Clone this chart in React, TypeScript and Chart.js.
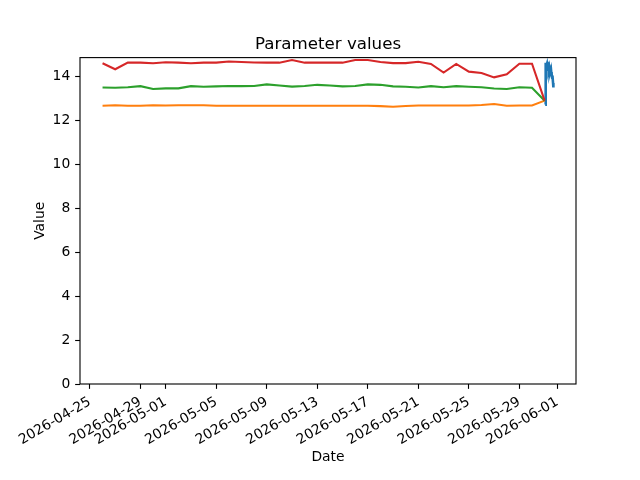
import { useEffect, useRef } from "react";
import { Chart, registerables } from "chart.js";

Chart.register(...registerables);

// one reading per day for the three daily parameters
const dailyDates = [
  "2026-04-26", "2026-04-27", "2026-04-28", "2026-04-29", "2026-04-30",
  "2026-05-01", "2026-05-02", "2026-05-03", "2026-05-04", "2026-05-05",
  "2026-05-06", "2026-05-07", "2026-05-08", "2026-05-09", "2026-05-10",
  "2026-05-11", "2026-05-12", "2026-05-13", "2026-05-14", "2026-05-15",
  "2026-05-16", "2026-05-17", "2026-05-18", "2026-05-19", "2026-05-20",
  "2026-05-21", "2026-05-22", "2026-05-23", "2026-05-24", "2026-05-25",
  "2026-05-26", "2026-05-27", "2026-05-28", "2026-05-29", "2026-05-30",
  "2026-05-31",
];

const dailyOrange = [
  12.67, 12.69, 12.67, 12.67, 12.69, 12.68, 12.69, 12.69, 12.69, 12.67,
  12.67, 12.67, 12.67, 12.67, 12.67, 12.67, 12.67, 12.67, 12.67, 12.67,
  12.67, 12.67, 12.65, 12.62, 12.66, 12.68, 12.68, 12.68, 12.68, 12.68,
  12.70, 12.75, 12.67, 12.68, 12.68, 12.90,
];

const dailyGreen = [
  13.50, 13.49, 13.51, 13.56, 13.43, 13.46, 13.46, 13.56, 13.53, 13.55,
  13.57, 13.56, 13.57, 13.64, 13.59, 13.54, 13.57, 13.62, 13.59, 13.55,
  13.57, 13.64, 13.62, 13.55, 13.53, 13.50, 13.56, 13.51, 13.56, 13.53,
  13.51, 13.45, 13.43, 13.51, 13.49, 12.90,
];

const dailyRed = [
  14.60, 14.33, 14.63, 14.63, 14.60, 14.65, 14.63, 14.60, 14.63, 14.63,
  14.68, 14.66, 14.64, 14.63, 14.63, 14.75, 14.63, 14.63, 14.63, 14.63,
  14.75, 14.75, 14.66, 14.61, 14.61, 14.67, 14.57, 14.18, 14.57, 14.22,
  14.16, 13.96, 14.10, 14.58, 14.58, 12.90,
];

// the dense series on the last day (every half hour)
const denseTimes = [
  "2026-05-31T01:00", "2026-05-31T01:30", "2026-05-31T02:00", "2026-05-31T02:30",
  "2026-05-31T03:00", "2026-05-31T03:30", "2026-05-31T04:00", "2026-05-31T04:30",
  "2026-05-31T05:00", "2026-05-31T05:30", "2026-05-31T06:00", "2026-05-31T06:30",
  "2026-05-31T07:00", "2026-05-31T07:30", "2026-05-31T08:00", "2026-05-31T08:30",
  "2026-05-31T09:00", "2026-05-31T09:30", "2026-05-31T10:00", "2026-05-31T10:30",
  "2026-05-31T11:00", "2026-05-31T11:30", "2026-05-31T12:00", "2026-05-31T12:30",
  "2026-05-31T13:00", "2026-05-31T13:30", "2026-05-31T14:00", "2026-05-31T14:30",
  "2026-05-31T15:00", "2026-05-31T15:30", "2026-05-31T16:00", "2026-05-31T16:30",
  "2026-05-31T16:45",
];

const denseBlue = [
  12.72, 13.40, 14.55, 14.62, 14.50, 14.60, 14.52, 14.58, 14.40, 14.55,
  14.45, 14.50, 14.35, 14.48, 14.30, 14.40, 14.20, 14.30, 14.15, 14.25,
  14.10, 14.35, 14.05, 14.20, 14.00, 14.15, 13.95, 14.05, 13.90, 14.00,
  13.70, 13.55, 13.50,
];

const xTickLabels = [
  "2026-04-25", "2026-04-29", "2026-05-01", "2026-05-05", "2026-05-09",
  "2026-05-13", "2026-05-17", "2026-05-21", "2026-05-25", "2026-05-29",
  "2026-06-01",
];

const yMax = 14.86;

const toMs = (s: string) => Date.parse(s.length === 10 ? s + "T00:00:00Z" : s + ":00Z");

const FONT = "'DejaVu Sans', sans-serif";
const PT = 100 / 72;

const framePlugin = {
  id: "frame",
  afterDatasetsDraw(chart: Chart) {
    const { ctx, chartArea: a } = chart;
    ctx.save();
    ctx.strokeStyle = "#000";
    ctx.lineWidth = 0.8 * PT;
    ctx.strokeRect(a.left, a.top, a.right - a.left, a.bottom - a.top);
    ctx.restore();
  },
};

function series(times: string[], values: number[]) {
  return times.map((t, i) => ({ x: toMs(t), y: values[i] }));
}

export default function App() {
  const canvasRef = useRef<HTMLCanvasElement>(null);
  const chartRef = useRef<Chart | null>(null);

  useEffect(() => {
    document.body.style.margin = "0";
    if (!canvasRef.current) return;
    if (chartRef.current) chartRef.current.destroy();

    const allX = [...dailyDates, ...denseTimes].map(toMs);
    const lo = Math.min(...allX);
    const hi = Math.max(...allX);
    const pad = (hi - lo) * 0.05;

    const tickFont = { family: FONT, size: 10 * PT };
    const line = (color: string, order: number, width = 1.5 * PT) => ({
      borderColor: color,
      backgroundColor: color,
      borderWidth: width,
      pointRadius: 0,
      tension: 0,
      fill: false,
      order,
    });

    chartRef.current = new Chart(canvasRef.current, {
      type: "line",
      data: {
        datasets: [
          { label: "blue", data: series(denseTimes, denseBlue), ...line("#1f77b4", 3, 2.6) },
          { label: "orange", data: series(dailyDates, dailyOrange), ...line("#ff7f0e", 2) },
          { label: "green", data: series(dailyDates, dailyGreen), ...line("#2ca02c", 1) },
          { label: "red", data: series(dailyDates, dailyRed), ...line("#d62728", 0) },
        ],
      },
      options: {
        responsive: false,
        animation: false,
        layout: { padding: { left: 0, right: 64, top: 0, bottom: 0 } },
        plugins: {
          legend: { display: false },
          tooltip: { enabled: false },
          title: {
            display: true,
            fullSize: false,
            text: "Parameter values",
            color: "#000",
            font: { family: FONT, size: 12 * PT, weight: "normal", lineHeight: 1.2 },
            padding: { top: 34.3, bottom: 3.3 },
          },
        },
        scales: {
          x: {
            type: "linear",
            min: lo - pad,
            max: hi + pad,
            afterBuildTicks: (s: any) => {
              s.ticks = xTickLabels.map((l) => ({ value: toMs(l) }));
            },
            afterFit: (s: any) => {
              s.height = 96;
            },
            ticks: {
              autoSkip: false,
              minRotation: 30,
              maxRotation: 30,
              color: "#000",
              font: tickFont,
              padding: 3.5 * PT,
              callback: (v: any) => new Date(Number(v)).toISOString().slice(0, 10),
            },
            grid: {
              drawOnChartArea: false,
              tickLength: 3.5 * PT,
              tickWidth: 0.8 * PT,
              tickColor: "#000",
            },
            border: { display: false },
            title: {
              display: true,
              text: "Date",
              color: "#000",
              font: { family: FONT, size: 10 * PT, lineHeight: 1.2 },
              padding: { top: 0, bottom: 14.7 },
            },
          },
          y: {
            type: "linear",
            min: 0,
            max: yMax,
            afterFit: (s: any) => {
              s.width = 80;
            },
            ticks: {
              stepSize: 2,
              includeBounds: false,
              color: "#000",
              font: tickFont,
              padding: 3.5 * PT,
            },
            grid: {
              drawOnChartArea: false,
              tickLength: 3.5 * PT,
              tickWidth: 0.8 * PT,
              tickColor: "#000",
            },
            border: { display: false },
            title: {
              display: true,
              text: "Value",
              color: "#000",
              font: { family: FONT, size: 10 * PT, lineHeight: 1.2 },
              padding: { top: 32.5, bottom: 0 },
            },
          },
        },
      },
      plugins: [framePlugin],
    });

    return () => {
      if (chartRef.current) {
        chartRef.current.destroy();
        chartRef.current = null;
      }
    };
  }, []);

  return <canvas ref={canvasRef} width={640} height={480} />;
}
